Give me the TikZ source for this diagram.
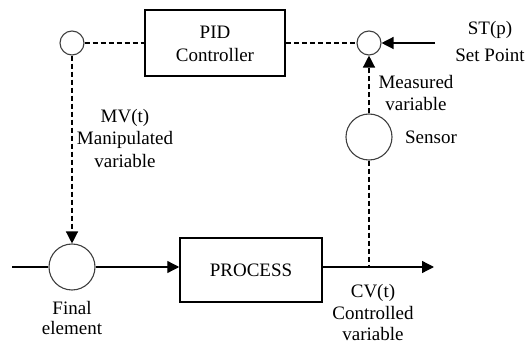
\documentclass[tikz,border=0pt]{standalone}
\usepackage{fontspec}
\setmainfont{Liberation Serif}
\usetikzlibrary{arrows.meta}
\tikzstyle{blk_box}=[rectangle,draw,line width=0.75pt,inner sep=0pt,align=center]
\tikzstyle{sum_circ}=[circle,draw=black!75,line width=0.55pt,inner sep=0pt,minimum size=12pt]
\tikzstyle{big_circ}=[circle,draw=black!75,line width=0.55pt,inner sep=0pt,minimum size=23pt]
\tikzstyle{txt}=[align=center,inner sep=0pt,font=\rmfamily\fontsize{9.5}{10.75}\selectfont]
\tikzstyle{sig_line}=[line width=0.65pt,-{Triangle[length=6pt,width=6pt]}]
\tikzstyle{dash_line}=[line width=0.6pt,dash pattern=on 2.5pt off 1.5pt]

\begin{document}
\begin{tikzpicture}[x=0.5pt,y=-0.5pt]
\useasboundingbox (0,0) rectangle (526,342);
\node[blk_box,minimum width=70pt,minimum height=33pt] (pid) at (215,43) {};
\node[txt] at (215,32) {PID};\node[txt] at (215,55) {Controller};
\node[blk_box,minimum width=71pt,minimum height=32pt] (proc) at (251,270) {};
\node[txt] at (251,270) {PROCESS};
\node[sum_circ] (mvc) at (72,43) {};\node[sum_circ] (err) at (369,43) {};
\node[big_circ] (fin) at (72,267) {};\node[big_circ] (sens) at (369,137) {};
\coordinate (inpt) at (12,267);\coordinate (outend) at (434,267);
\coordinate (cvjoin) at (369,267);\coordinate (spin) at (435,43);
\draw[dash_line] (mvc) -- (pid);\draw[dash_line] (pid) -- (err);
\draw[dash_line,sig_line] (mvc) -- (fin);
\draw[dash_line,sig_line] (sens) -- (err);
\draw[dash_line] (sens) -- (cvjoin);
\draw[sig_line] (spin) -- (err);
\draw[line width=0.65pt] (inpt) -- (fin);
\draw[sig_line] (fin) -- (fin -| proc.west);
\draw[sig_line] (proc.east |- cvjoin) -- (outend);
\node[txt] at (490,30) {ST(p)};\node[txt] at (490,55) {Set Point};
\node[txt] at (416,82) {Measured};\node[txt] at (416,104) {variable};
\node[txt] at (431,137) {Sensor};
\node[txt] at (125,118) {MV(t)};\node[txt] at (125,140) {Manipulated};\node[txt] at (125,161) {variable};
\node[txt] at (72,308) {Final};\node[txt] at (72,328) {element};
\node[txt] at (373,293) {CV(t)};\node[txt] at (373,313) {Controlled};\node[txt] at (373,334) {variable};
\end{tikzpicture}
\end{document}
